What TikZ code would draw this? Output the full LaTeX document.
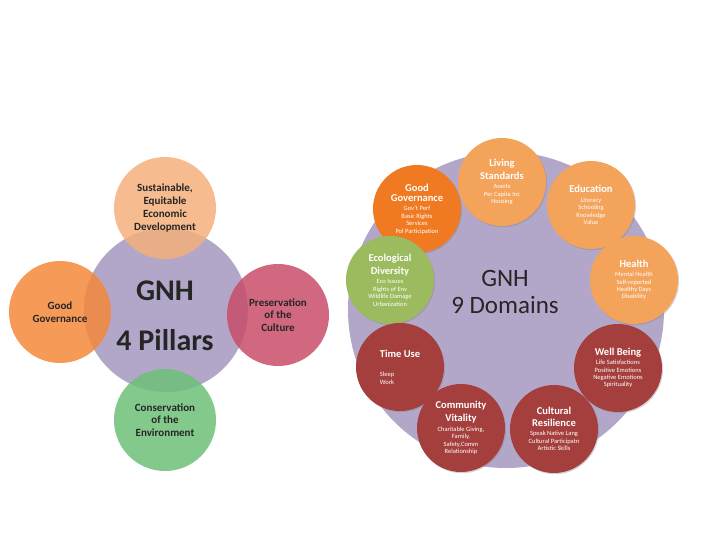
\documentclass[tikz,border=0pt]{standalone}
\usepackage{fontspec}
\setmainfont{Carlito}
\usetikzlibrary{shadows}

\definecolor{hubPurple}{HTML}{B3A7C9}
\definecolor{econTan}{HTML}{F4B07C}
\definecolor{govOrange}{HTML}{F4883A}
\definecolor{cultRose}{HTML}{C94D6A}
\definecolor{envGreen}{HTML}{6DC078}
\definecolor{domOrange}{HTML}{F07A22}
\definecolor{domLight}{HTML}{F4A35B}
\definecolor{domGreen}{HTML}{9CBB5E}
\definecolor{domRed}{HTML}{A43F3D}

\newcommand{\dhead}[1]{{\bfseries\fontsize{10.5}{13}\selectfont #1}}

\begin{document}
\begin{tikzpicture}[x=1pt, y=-1pt,
	hub/.style={circle, fill=hubPurple, inner sep=0pt},
	pillar/.style={circle, minimum size=102pt, inner sep=0pt, fill opacity=0.85, text opacity=1,
		align=center, text=black!85, font=\bfseries\fontsize{11}{12.7}\selectfont},
	domcircle/.style={circle, minimum size=88pt, inner sep=0pt, align=center, text=white,
		font=\fontsize{6.5}{7.4}\selectfont,
		drop shadow={opacity=0.35, shadow xshift=1pt, shadow yshift=-1.2pt}},
	bigtitle/.style={font=\bfseries\fontsize{30}{36}\selectfont, text=black!85},
	midtitle/.style={font=\fontsize{25}{30}\selectfont, text=black!85}
	]
	\useasboundingbox (0,0) rectangle (720,540);

	% four pillars
	\node[hub, minimum size=164pt] (hub4) at (166,310) {};
	\node[pillar, fill=econTan] (pilEcon) at (165,208) {Sustainable,\\Equitable\\Economic\\Development};
	\node[pillar, fill=govOrange] (pilGov) at (60,312) {Good\\Governance};
	\node[pillar, fill=cultRose] (pilCult) at (278,315) {Preservation\\of the\\Culture};
	\node[pillar, fill=envGreen] (pilEnv) at (165,420) {Conservation\\of the\\Environment};
	\node[bigtitle] (gnh4) at (165,291) {GNH};
	\node[bigtitle] (pillars) at (165,340) {4 Pillars};

	% nine domains
	\node[hub, minimum size=316pt] (hub9) at (506,310) {};
	\node[midtitle] (gnh9) at (505,278) {GNH};
	\node[midtitle] (domains) at (505,305) {9 Domains};
	\node[domcircle, fill=domOrange] (domGov) at (417,209)
		{\dhead{Good}\\[3pt]\dhead{Governance}\\[2pt]Gov't Perf\\Basic Rights\\Services\\Pol Participation};
	\node[domcircle, fill=domLight] (domLiving) at (502,182)
		{\dhead{Living}\\[3pt]\dhead{Standards}\\[2pt]Assets\\Per Capita Inc\\Housing};
	\node[domcircle, fill=domLight] (domEdu) at (591,205)
		{\dhead{Education}\\[2pt]Literacy\\Schooling\\Knowledge\\Value};
	\node[domcircle, fill=domLight] (domHealth) at (634,280)
		{\dhead{Health}\\[2pt]Mental Health\\Self-reported\\Healthy Days\\Disability};
	\node[domcircle, fill=domGreen] (domEco) at (390,280)
		{\dhead{Ecological}\\[3pt]\dhead{Diversity}\\[2pt]Eco Issues\\Rights of Env\\Wildlife Damage\\Urbanization};
	\node[domcircle, fill=domRed, align=left] (domTime) at (400,367)
		{\dhead{Time Use}\\[12pt]Sleep\\Work};
	\node[domcircle, fill=domRed] (domComm) at (461,428)
		{\dhead{Community}\\[3pt]\dhead{Vitality}\\[2pt]Charitable Giving,\\Family,\\Safety,Comm\\Relationship};
	\node[domcircle, fill=domRed] (domCult) at (554,429)
		{\dhead{Cultural}\\[3pt]\dhead{Resilience}\\[2pt]Speak Native Lang\\Cultural Participatn\\Artistic Skills};
	\node[domcircle, fill=domRed] (domWell) at (618,368)
		{\dhead{Well Being}\\[2pt]Life Satisfactions\\Positive Emotions\\Negative Emotions\\Spirituality};
\end{tikzpicture}
\end{document}
